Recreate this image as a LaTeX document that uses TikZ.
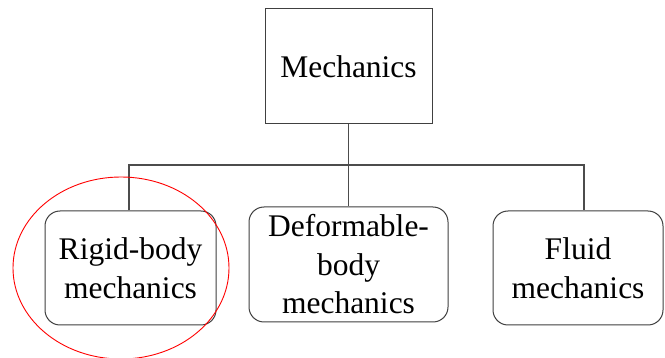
\documentclass[tikz,border=0pt]{standalone}
\usepackage{fontspec}
\setmainfont{Liberation Serif}
\begin{document}
\begin{tikzpicture}[x=1pt,y=-1pt,
  box/.style={draw=black!75,line width=1pt,inner sep=0pt,align=center,
    font=\fontsize{31.5}{38.5}\selectfont},
  rbox/.style={box,rounded corners=15pt},
  conn/.style={draw=black!70,line width=1.1pt}]
\useasboundingbox[fill=white] (0,0) rectangle (665,358);
\node[box,minimum width=167pt,minimum height=115pt] (mech) at (348.5,66.5) {Mechanics};
\node[rbox,minimum width=171pt,minimum height=114pt] (rigid) at (130.5,268) {Rigid-body\\mechanics};
\node[rbox,minimum width=199pt,minimum height=115pt] (deform) at (348.5,264.5) {Deformable-\\body\\mechanics};
\node[rbox,minimum width=170pt,minimum height=114pt] (fluid) at (578,268) {Fluid\\mechanics};
\coordinate (j) at (348.5,165);
\draw[conn] (mech.south) -- (deform.north);
\draw[conn] ([xshift=-1.5pt]rigid.north) |- (j) -| ([xshift=6pt]fluid.north);
\draw[red,line width=0.9pt] (121,268) ellipse [x radius=108, y radius=91];
\end{tikzpicture}
\end{document}
